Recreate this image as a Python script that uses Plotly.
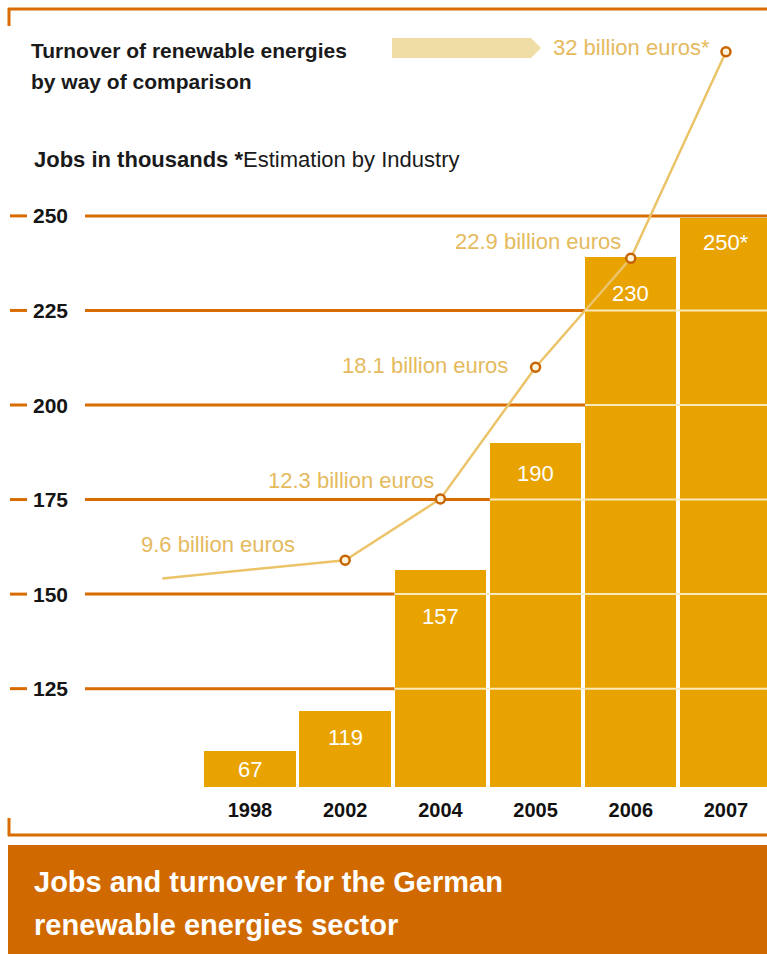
import plotly.graph_objects as go

# ---------------- data ----------------
years = ["1998", "2002", "2004", "2005", "2006", "2007"]
jobs_labels = ["67", "119", "157", "190", "230", "250*"]
# bar tops as drawn in the infographic (jobs-in-thousands scale, not to scale for 1998/2006)
bar_tops_drawn = [108.5, 119, 156.5, 190, 239, 249.5]

turnover_years = ["2002", "2004", "2005", "2006", "2007"]
turnover_values = [9.6, 12.3, 18.1, 22.9, 32]
turnover_labels = ["9.6 billion euros", "12.3 billion euros", "18.1 billion euros",
                   "22.9 billion euros", "32 billion euros*"]
lead_in_value = 8.8          # unlabelled start of the turnover line, left of 1998
lead_in_offset = -0.92       # in category units relative to 1998

y_ticks = [125, 150, 175, 200, 225, 250]

# ---------------- style / layout ----------------
W, H = 767, 954
PLOT_BOTTOM = 787
X_RANGE = [-2.626, 5.431]
Y_RANGE = [99, 307.08]
Y2_RANGE = [-0.39, 34.28]
BAR_W = 0.96

ORANGE = "#D86C00"
BAR = "#E8A300"
CREAM = "#FBE9BE"
LINE = "#EBC46A"
RING = "#C86400"
LBL = "#E5BA5E"
BOX = "#D06A00"
NARROW = "Liberation Sans Narrow, Arial Narrow, Liberation Sans, sans-serif"
SANS = "Liberation Sans, Arial, sans-serif"


def xdata(px):
    return X_RANGE[0] + px / W * (X_RANGE[1] - X_RANGE[0])


def xp(px):
    return px / W


def yp(py):
    return (PLOT_BOTTOM - py) / PLOT_BOTTOM


fig = go.Figure()

xs = list(range(len(years)))
fig.add_trace(go.Bar(x=xs, y=bar_tops_drawn, width=BAR_W, marker=dict(color=BAR, line=dict(width=0)),
                     hoverinfo="skip", showlegend=False))

t_x = [years.index("1998") + lead_in_offset] + [years.index(y) for y in turnover_years]
t_y = [lead_in_value] + turnover_values
fig.add_trace(go.Scatter(x=t_x, y=t_y, yaxis="y2", mode="lines",
                         line=dict(color=LINE, width=2.5), hoverinfo="skip", showlegend=False))
fig.add_trace(go.Scatter(x=[years.index(y) for y in turnover_years], y=turnover_values, yaxis="y2",
                         mode="markers",
                         marker=dict(symbol="circle", size=9, color="#FFF3DA", line=dict(color=RING, width=2.5)),
                         hoverinfo="skip", showlegend=False))

shapes = []
annotations = []

# gridlines: orange until the first bar that rises above the level, cream inside bars
for g in y_ticks:
    k = next((i for i, v in enumerate(bar_tops_drawn) if v > g), None)
    x_end = (k - BAR_W / 2) if k is not None else X_RANGE[1]
    shapes.append(dict(type="line", xref="x", yref="y", x0=xdata(85), x1=x_end, y0=g, y1=g,
                       line=dict(color=ORANGE, width=3), layer="below"))
    if k is not None:
        shapes.append(dict(type="line", xref="x", yref="y", x0=x_end, x1=X_RANGE[1], y0=g, y1=g,
                           line=dict(color=CREAM, width=2), layer="above"))
    shapes.append(dict(type="line", xref="paper", yref="y", x0=xp(10), x1=xp(27), y0=g, y1=g,
                       line=dict(color=ORANGE, width=3)))
    annotations.append(dict(xref="paper", yref="y", x=xp(31), y=g, xanchor="left", yanchor="middle",
                            text=f"<b>{g}</b>", showarrow=False,
                            font=dict(family=SANS, size=21, color="#151515")))

# bar value labels (distance of label centre below bar top, px)
label_drop = [None, 26, 47, 31, 36, 25]
px_per_unit = PLOT_BOTTOM / (Y_RANGE[1] - Y_RANGE[0])
for i, (top, lab) in enumerate(zip(bar_tops_drawn, jobs_labels)):
    half = (top - Y_RANGE[0]) * px_per_unit / 2
    drop = label_drop[i] if label_drop[i] is not None else half
    annotations.append(dict(x=i, y=top, xref="x", yref="y", text=lab, showarrow=False,
                            yanchor="middle", yshift=-drop,
                            font=dict(family=NARROW, size=22, color="white")))

# turnover labels
label_offsets = [(-48, 16), (-4, 18), (-26, 2), (-8, 17), (-14, 4)]
for yr, v, lab, (dx, dy) in zip(turnover_years, turnover_values, turnover_labels, label_offsets):
    annotations.append(dict(x=years.index(yr), y=v, xref="x", yref="y2", text=lab, showarrow=False,
                            xanchor="right", yanchor="middle", xshift=dx, yshift=dy,
                            font=dict(family=NARROW, size=22, color=LBL)))

# headings
annotations.append(dict(xref="paper", yref="paper", x=xp(29), y=yp(50), xanchor="left", yanchor="middle",
                        text="<b>Turnover of renewable energies</b>", showarrow=False,
                        font=dict(family=NARROW, size=21, color="#1a1a1a")))
annotations.append(dict(xref="paper", yref="paper", x=xp(29), y=yp(82), xanchor="left", yanchor="middle",
                        text="<b>by way of comparison</b>", showarrow=False,
                        font=dict(family=NARROW, size=21, color="#1a1a1a")))
annotations.append(dict(xref="paper", yref="paper", x=xp(32), y=yp(160), xanchor="left", yanchor="middle",
                        text="<b>Jobs in thousands *</b>Estimation by Industry", showarrow=False,
                        font=dict(family=NARROW, size=22, color="#1a1a1a")))

# comparison arrow
shapes.append(dict(type="path", xref="paper", yref="paper",
                   path=f"M {xp(392)} {yp(38)} L {xp(531)} {yp(38)} L {xp(541)} {yp(48)} "
                        f"L {xp(531)} {yp(58)} L {xp(392)} {yp(58)} Z",
                   fillcolor="#F0DDA6", line=dict(width=0)))

# frame lines
shapes += [
    dict(type="line", xref="paper", yref="paper", x0=xp(8), x1=1, y0=yp(9), y1=yp(9),
         line=dict(color=ORANGE, width=3)),
    dict(type="line", xref="paper", yref="paper", x0=xp(9), x1=xp(9), y0=yp(8), y1=yp(26),
         line=dict(color=ORANGE, width=3)),
    dict(type="line", xref="paper", yref="paper", x0=xp(9), x1=xp(9), y0=yp(818), y1=yp(836),
         line=dict(color=ORANGE, width=3)),
    dict(type="line", xref="paper", yref="paper", x0=xp(8), x1=1, y0=yp(835), y1=yp(835),
         line=dict(color=ORANGE, width=3)),
    dict(type="rect", xref="paper", yref="paper", x0=xp(8), x1=1, y0=yp(954), y1=yp(845),
         fillcolor=BOX, line=dict(width=0)),
]

annotations.append(dict(xref="paper", yref="paper", x=xp(32), y=yp(882), xanchor="left", yanchor="middle",
                        text="<b>Jobs and turnover for the German</b>", showarrow=False,
                        font=dict(family=NARROW, size=29, color="white")))
annotations.append(dict(xref="paper", yref="paper", x=xp(32), y=yp(925), xanchor="left", yanchor="middle",
                        text="<b>renewable energies sector</b>", showarrow=False,
                        font=dict(family=NARROW, size=29, color="white")))

fig.update_layout(
    width=W, height=H, autosize=False,
    margin=dict(l=0, r=0, t=0, b=H - PLOT_BOTTOM, pad=0),
    paper_bgcolor="white", plot_bgcolor="white",
    bargap=0,
    xaxis=dict(range=X_RANGE, tickvals=xs, ticktext=[f"<b>{y}</b>" for y in years],
               showgrid=False, zeroline=False,
               showline=False, ticks="outside", ticklen=5, tickcolor="rgba(0,0,0,0)",
               tickfont=dict(family=SANS, size=20, color="#111"), fixedrange=True),
    yaxis=dict(range=Y_RANGE, visible=False, fixedrange=True),
    yaxis2=dict(range=Y2_RANGE, overlaying="y", visible=False, fixedrange=True),
    shapes=shapes, annotations=annotations,
)

fig.write_html("out.html")
